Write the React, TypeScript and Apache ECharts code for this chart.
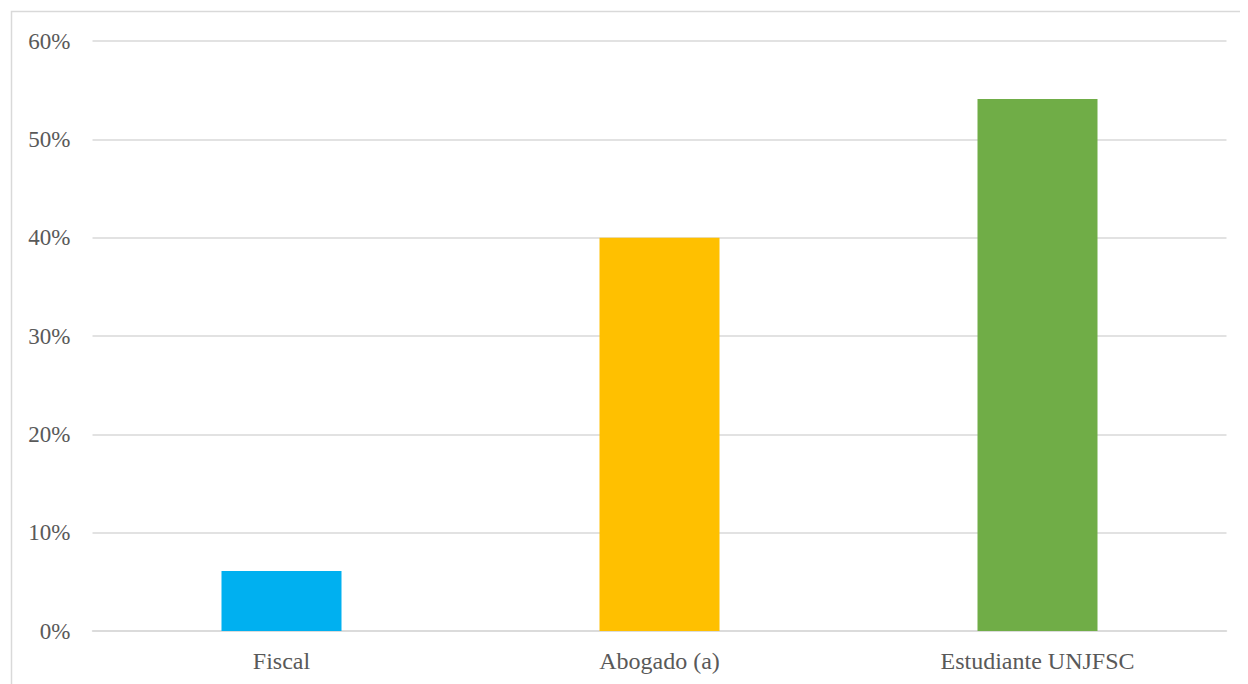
import React, { useEffect, useRef } from "react";
import * as echarts from "echarts";

const categories = ["Fiscal", "Abogado (a)", "Estudiante UNJFSC"];
const values = [6.1, 40, 54.1];
const colors = ["#00B0F0", "#FFC000", "#70AD47"];
const yTicks = { min: 0, max: 60, interval: 10 };

export default function App() {
  const ref = useRef<HTMLDivElement>(null);
  useEffect(() => {
    if (!ref.current) return;
    const chart = echarts.init(ref.current, null, { renderer: "svg" });
    chart.setOption({
      animation: false,
      backgroundColor: "#ffffff",
      textStyle: { fontFamily: "Liberation Serif" },
      graphic: [
        {
          type: "rect",
          shape: { x: 3.5, y: 3.5, width: 1400, height: 900 },
          style: { fill: "none", stroke: "#d9d9d9", lineWidth: 1.5 },
          silent: true,
        },
      ],
      grid: { left: 84.5, right: 21.5, top: 33, bottom: 53 },
      xAxis: {
        type: "category",
        data: categories,
        axisLine: { show: true, lineStyle: { color: "#d9d9d9", width: 1.5 } },
        axisTick: { show: false },
        axisLabel: {
          color: "#595959",
          fontSize: 24,
          fontFamily: "Liberation Serif",
          margin: 18,
        },
      },
      yAxis: {
        type: "value",
        min: yTicks.min,
        max: yTicks.max,
        interval: yTicks.interval,
        axisLine: { show: false },
        axisTick: { show: false },
        splitLine: { lineStyle: { color: "#d9d9d9", width: 1.5 } },
        axisLabel: {
          color: "#595959",
          fontSize: 23,
          fontFamily: "Liberation Serif",
          margin: 22,
          formatter: (v: number) => `${v}%`,
        },
      },
      series: [
        {
          type: "bar",
          barWidth: 120,
          data: values.map((v, i) => ({ value: v, itemStyle: { color: colors[i] } })),
        },
      ],
    });
    return () => chart.dispose();
  }, []);
  return <div ref={ref} style={{ width: 1240, height: 676 }} />;
}
